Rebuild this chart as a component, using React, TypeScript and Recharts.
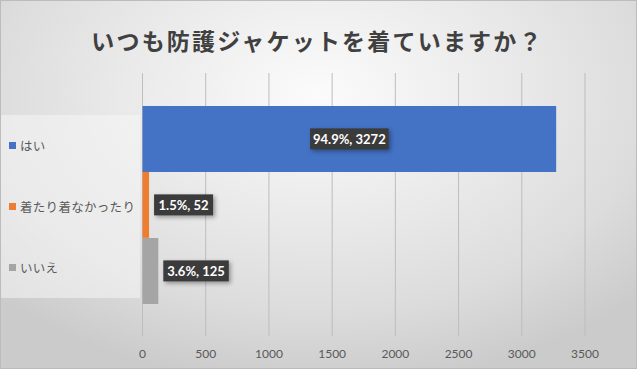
import { BarChart, Bar, XAxis, YAxis, CartesianGrid, Legend, LabelList } from 'recharts';

const categories = ['はい', '着たり着なかったり', 'いいえ'];
const counts = [3272, 52, 125];
const percents = ['94.9%', '1.5%', '3.6%'];
const xTicks = [0, 500, 1000, 1500, 2000, 2500, 3000, 3500];

const colors = ['#4472C4', '#ED7D31', '#A5A5A5'];
const seriesKeys = ['s0', 's1', 's2'];

const data = [
  seriesKeys.reduce(
    (row, key, i) => ({ ...row, [key]: counts[i] }),
    { group: 'all' } as Record<string, string | number>
  ),
];

const jpFont = '"Noto Sans CJK JP", sans-serif';
const numFont = 'Lato, "Noto Sans CJK JP", sans-serif';

const makeLabel = (seriesIndex: number) => (props: any) => {
  const { x, y, width, height, value } = props;
  const text = `${percents[seriesIndex]}, ${value}`;
  const boxW = text.length * 6.5 + 7;
  const boxH = 21;
  const cy = y + height / 2;
  // first series label sits inside the bar, others just past the bar end
  const cx = seriesIndex === 0 ? x + width / 2 : x + width + 5 + boxW / 2;
  return (
    <g>
      <rect
        x={cx - boxW / 2}
        y={cy - boxH / 2}
        width={boxW}
        height={boxH}
        fill="#3b3b3b"
        style={{ filter: 'drop-shadow(2px 2px 2px rgba(0,0,0,0.35))' }}
      />
      <text
        x={cx}
        y={cy}
        textAnchor="middle"
        dominantBaseline="central"
        fill="#ffffff"
        fontFamily={numFont}
        fontWeight="bold"
        fontSize={13}
      >
        {text}
      </text>
    </g>
  );
};

const LegendPanel = (props: any) => {
  const items = [...(props.payload || [])].sort(
    (a: any, b: any) => categories.indexOf(a.value) - categories.indexOf(b.value)
  );
  return (
    <div
      style={{
        width: 140,
        height: 183,
        background: 'rgba(245,245,245,0.55)',
        display: 'flex',
        flexDirection: 'column',
        justifyContent: 'space-around',
      }}
    >
      {items.map((entry: any) => (
        <div key={entry.value} style={{ display: 'flex', alignItems: 'center', height: 18 }}>
          <span
            style={{
              display: 'inline-block',
              width: 7,
              height: 7,
              marginLeft: 9,
              marginRight: 4,
              background: entry.color,
            }}
          />
          <span
            style={{
              fontFamily: jpFont,
              fontSize: 12.5,
              letterSpacing: 0.3,
              color: '#595959',
              whiteSpace: 'nowrap',
            }}
          >
            {entry.value}
          </span>
        </div>
      ))}
    </div>
  );
};

export default function App() {
  return (
    <div
      style={{
        position: 'absolute',
        left: 0,
        top: 0,
        width: 637,
        height: 369,
        boxSizing: 'border-box',
        border: '1px solid #bcbcbc',
        background:
          'radial-gradient(ellipse 70% 80% at 50% 25%, #fbfbfb 0%, #e9e9e9 45%, #dcdcdc 75%, #cbcbcb 100%)',
        overflow: 'hidden',
      }}
    >
      <div
        style={{
          position: 'absolute',
          left: 0,
          top: 24,
          width: 633,
          textAlign: 'center',
          fontFamily: jpFont,
          fontSize: 23,
          fontWeight: 600,
          letterSpacing: 2.2,
          color: '#404040',
          lineHeight: '30px',
        }}
      >
        いつも防護ジャケットを着ていますか？
      </div>
      <div style={{ position: 'absolute', left: -1, top: -1 }}>
        <BarChart
          width={637}
          height={369}
          data={data}
          layout="vertical"
          margin={{ top: 73, right: 52, bottom: 8, left: 142.5 }}
          barCategoryGap="12.5%"
          barGap={0}
        >
          <CartesianGrid horizontal={false} stroke="#bdbdbd" />
          <XAxis
            type="number"
            domain={[0, 3500]}
            ticks={xTicks}
            axisLine={false}
            tickLine={false}
            tickMargin={7}
            height={25}
            tick={{ fill: '#595959', fontSize: 12, fontFamily: numFont }}
            interval={0}
          />
          <YAxis type="category" dataKey="group" hide />
          <Legend
            layout="horizontal"
            verticalAlign="middle"
            align="center"
            wrapperStyle={{ left: 0, top: 115, width: 140, height: 183 }}
            content={<LegendPanel />}
          />
          {seriesKeys.map((key, i) => (
            <Bar
              key={key}
              dataKey={key}
              name={categories[i]}
              fill={colors[i]}
              isAnimationActive={false}
            >
              <LabelList dataKey={key} content={makeLabel(i)} />
            </Bar>
          ))}
        </BarChart>
      </div>
    </div>
  );
}
